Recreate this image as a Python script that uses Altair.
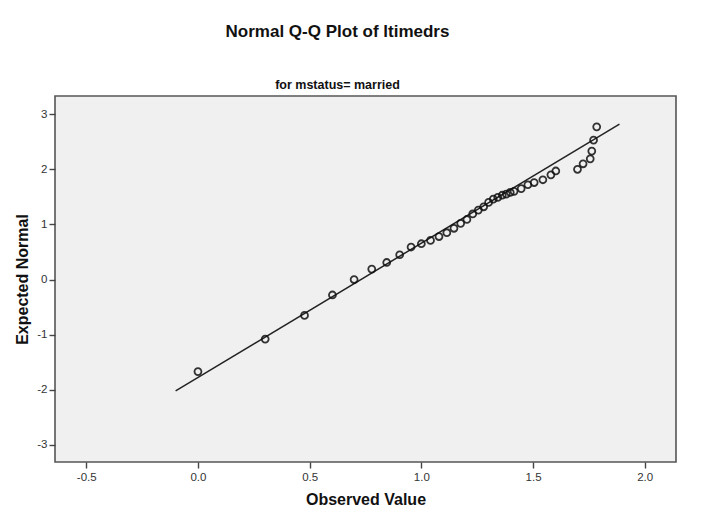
import altair as alt
import pandas as pd

# Observed values (log10(timedrs + 1)) and their expected normal scores
observed = [0.000, 0.301, 0.477, 0.602, 0.699, 0.778, 0.845, 0.903, 0.954, 1.000,
            1.041, 1.079, 1.114, 1.146, 1.176, 1.204, 1.230, 1.255, 1.279, 1.301,
            1.322, 1.342, 1.362, 1.380, 1.398, 1.415, 1.447, 1.477, 1.505, 1.544,
            1.580, 1.602, 1.699, 1.724, 1.756, 1.763, 1.771, 1.785]
expected = [-1.67, -1.08, -0.65, -0.28, 0.00, 0.19, 0.31, 0.45, 0.59, 0.65,
            0.71, 0.78, 0.85, 0.93, 1.02, 1.09, 1.19, 1.26, 1.32, 1.40,
            1.46, 1.49, 1.53, 1.55, 1.58, 1.60, 1.65, 1.72, 1.76, 1.81,
            1.90, 1.97, 2.00, 2.10, 2.19, 2.33, 2.53, 2.77]

# Reference line end points
line_x = [-0.10, 1.887]
line_y = [-2.02, 2.82]

x_ticks = [-0.5, 0.0, 0.5, 1.0, 1.5, 2.0]
y_ticks = [-3, -2, -1, 0, 1, 2, 3]

pts = pd.DataFrame({"obs": observed, "exp": expected})
ln = pd.DataFrame({"obs": line_x, "exp": line_y})

FONT = "Liberation Sans"

xscale = alt.Scale(domain=[-0.64, 2.14], nice=False, zero=False)
yscale = alt.Scale(domain=[-3.31, 3.33], nice=False, zero=False)

xaxis = alt.Axis(
    title="Observed Value", values=x_ticks, grid=False, domain=False,
    labelExpr="datum.value < 0 ? '-' + format(-datum.value, '.1f') : format(datum.value, '.1f')",
    tickSize=6, tickColor="#444", tickWidth=1.4,
    labelFont=FONT, labelFontSize=11.5, labelColor="#333", labelPadding=3,
    titleFont=FONT, titleFontSize=16, titleFontWeight="bold", titleColor="#111",
    titlePadding=9,
)
yaxis = alt.Axis(
    title="Expected Normal", values=y_ticks, grid=False, domain=False,
    labelExpr="datum.value < 0 ? '-' + format(-datum.value, 'd') : format(datum.value, 'd')",
    tickSize=6, tickColor="#444", tickWidth=1.4,
    labelFont=FONT, labelFontSize=11.5, labelColor="#333", labelPadding=2,
    titleFont=FONT, titleFontSize=16, titleFontWeight="bold", titleColor="#111",
    titlePadding=6,
)

points = alt.Chart(pts).mark_point(
    shape="circle", filled=False, size=48, stroke="#111", strokeWidth=1.8, opacity=0.85
).encode(
    x=alt.X("obs:Q", scale=xscale, axis=xaxis),
    y=alt.Y("exp:Q", scale=yscale, axis=yaxis),
)

line = alt.Chart(ln).mark_line(color="#222", strokeWidth=1.5).encode(
    x=alt.X("obs:Q", scale=xscale),
    y=alt.Y("exp:Q", scale=yscale),
)

chart = alt.layer(line, points).properties(
    width=621,
    height=366,
    background="white",
    title=alt.Title(
        text="Normal Q-Q Plot of ltimedrs",
        subtitle="for mstatus= married",
        anchor="middle", dx=-28, offset=4,
        font=FONT, fontSize=17, fontWeight="bold", color="#111",
        subtitleFont=FONT, subtitleFontSize=12.5, subtitleFontWeight="bold",
        subtitleColor="#111", subtitlePadding=38,
    ),
    autosize=alt.AutoSizeParams(type="none"),
    padding={"left": 47, "top": 88, "right": 21, "bottom": 57},
).configure_view(
    fill="#f0f0f0", stroke="#555", strokeWidth=1.6
)

chart.save("out.html", embed_options={"renderer": "svg", "actions": False})
